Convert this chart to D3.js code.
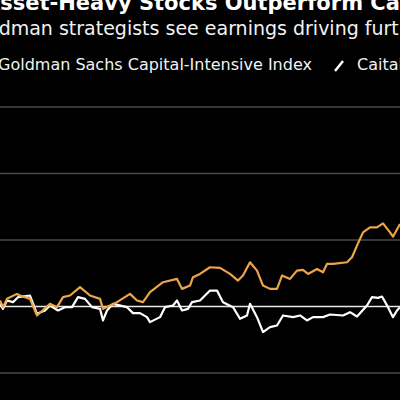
<!DOCTYPE html>
<html><head><meta charset="utf-8">
<script src="https://cdn.jsdelivr.net/npm/d3@7"></script>
<style>body{margin:0;background:#000}svg{display:block}</style>
</head><body><svg id="c" width="400" height="400"></svg>
<script>
const intensiveDays = [0,3,7,17,20,30,37,50,57,63,70,80,90,100,103,117,130,137,143,150,163,177,182,190,193,200,210,220,230,238,243,250,257,263,270,277,282,290,297,303,308,317,323,327,333,347,352,357,363,370,377,383,390,393,400]
const intensiveValues = [100.9,99.9,101.15,101.9,101.65,101.15,98.65,100.4,99.9,101.4,101.65,102.9,101.65,101.15,99.65,100.65,101.9,100.9,100.65,102.15,103.65,104.15,102.65,103.15,104.4,104.9,105.9,105.8,104.9,103.9,104.65,106.65,105.4,103.15,102.65,102.65,104.65,104.15,105.4,105.5,104.9,105.65,105.15,106.4,106.4,106.65,107.4,109.15,111.15,111.9,111.9,112.5,111.15,110.5,112.4]
const lightDays = [0,3,7,13,18,30,37,45,50,58,65,72,78,85,92,100,103,107,113,127,133,140,147,150,160,165,173,177,182,188,192,200,210,217,223,233,240,247,250,257,263,270,277,283,293,300,307,313,323,330,343,350,357,367,372,378,382,388,393,397,400]
const lightValues = [100.4,99.65,100.9,100.65,101.4,101.65,98.9,99.4,100.15,99.4,99.9,99.9,101.4,101.15,99.9,99.65,97.9,99.4,100.4,99.9,99.0,99.0,98.4,97.65,98.4,99.9,100.15,100.9,99.4,99.65,100.65,100.9,102.4,102.4,100.65,99.9,98.15,98.65,100.4,98.4,96.15,96.9,97.15,98.65,98.4,98.65,97.9,98.4,98.4,98.8,98.65,99.15,98.5,100.15,101.4,101.3,101.5,99.9,98.4,99.4,99.9]
const gridTicks = [90,110,120,130]
const baseline = 100

const svg = d3.select('#c')
svg.append('rect').attr('width',400).attr('height',400).attr('fill','#000')

const x = d3.scaleLinear().domain([0,400]).range([0,400])
const y = d3.scaleLinear().domain([90,130]).range([373,107])

svg.append('g').selectAll('line').data(gridTicks).join('line')
  .attr('x1',0).attr('x2',400)
  .attr('y1',d=>y(d)).attr('y2',d=>y(d))
  .attr('stroke','#4a4a4a').attr('stroke-width',1.3)

svg.append('line').attr('x1',0).attr('x2',400)
  .attr('y1',y(baseline)).attr('y2',y(baseline))
  .attr('stroke','#e8e8e8').attr('stroke-width',1.3)

const line = d3.line().x(d=>x(d[0])).y(d=>y(d[1]))
svg.append('path').datum(d3.zip(lightDays,lightValues))
  .attr('fill','none').attr('stroke','#fff').attr('stroke-width',2.2)
  .attr('stroke-linejoin','round').attr('d',line)
svg.append('path').datum(d3.zip(intensiveDays,intensiveValues))
  .attr('fill','none').attr('stroke','#eea448').attr('stroke-width',2.2)
  .attr('stroke-linejoin','round').attr('d',line)

const font = '"DejaVu Sans", sans-serif'
svg.append('text').attr('x',-16).attr('y',10).attr('fill','#fff')
  .attr('font-family',font).attr('font-weight','bold').attr('font-size',21)
  .text('Asset-Heavy Stocks Outperform Capital-Light')
svg.append('text').attr('x',-33).attr('y',35).attr('fill','#f2f2f2')
  .attr('font-family',font).attr('font-size',19)
  .text('Goldman strategists see earnings driving further gains')
svg.append('text').attr('x',-2).attr('y',70).attr('fill','#f2f2f2')
  .attr('font-family',font).attr('font-size',16)
  .text('Goldman Sachs Capital-Intensive Index')
svg.append('line').attr('x1',335).attr('y1',71).attr('x2',343).attr('y2',61)
  .attr('stroke','#fff').attr('stroke-width',2.5)
svg.append('text').attr('x',357).attr('y',70).attr('fill','#f2f2f2')
  .attr('font-family',font).attr('font-size',16)
  .text('Caital-Light Index')
</script></body></html>
